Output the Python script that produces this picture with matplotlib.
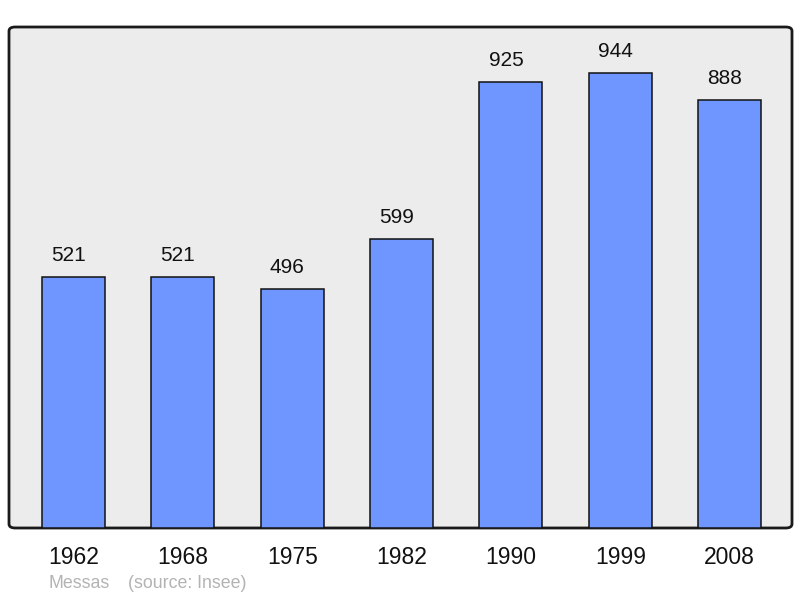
import matplotlib
matplotlib.use("Agg")
import matplotlib.pyplot as plt
from matplotlib.patches import FancyBboxPatch

years = ["1962", "1968", "1975", "1982", "1990", "1999", "2008"]
population = [521, 521, 496, 599, 925, 944, 888]
town = "Messas"
source = "(source: Insee)"

plt.rcParams['font.family'] = ['Liberation Sans', 'DejaVu Sans']


def main():
    fig = plt.figure(figsize=(8, 5.98), dpi=100)
    ax = fig.add_axes([9 / 800, 1 - 528 / 598, 783 / 800, 501 / 598])

    ax.patch.set_visible(False)
    for s in ax.spines.values():
        s.set_visible(False)
    frame = FancyBboxPatch((0, 0), 1, 1, boxstyle="round,pad=0,rounding_size=0.008",
                           transform=ax.transAxes, facecolor="#ececec",
                           edgecolor="#1a1a1a", linewidth=2, zorder=0,
                           clip_on=False)
    ax.add_patch(frame)

    x = list(range(len(years)))
    bars = ax.bar(x, population, width=0.576, color="#6f96ff",
                  edgecolor="#111111", linewidth=1.1, zorder=2)
    for b, v in zip(bars, population):
        ax.annotate(str(v), (b.get_x() + b.get_width() / 2, v),
                    xytext=(-3.6, 9), textcoords="offset points",
                    ha="center", va="bottom", fontsize=15, color="#111111")

    ax.set_xlim(-0.59, 6.57)
    ax.set_ylim(0, 1040)
    ax.set_xticks(x)
    ax.set_xticklabels(years, fontsize=16.5, color="#111111")
    ax.tick_params(axis="x", length=0, pad=13)
    ax.set_yticks([])

    fig.text(49 / 800, 1 - 584 / 598, town, fontsize=12.8, color="#b3b3b3",
             ha="left", va="center")
    fig.text(128 / 800, 1 - 584 / 598, source, fontsize=12.8, color="#b3b3b3",
             ha="left", va="center")

    fig.savefig("out.png", dpi=100)


if __name__ == "__main__":
    main()
